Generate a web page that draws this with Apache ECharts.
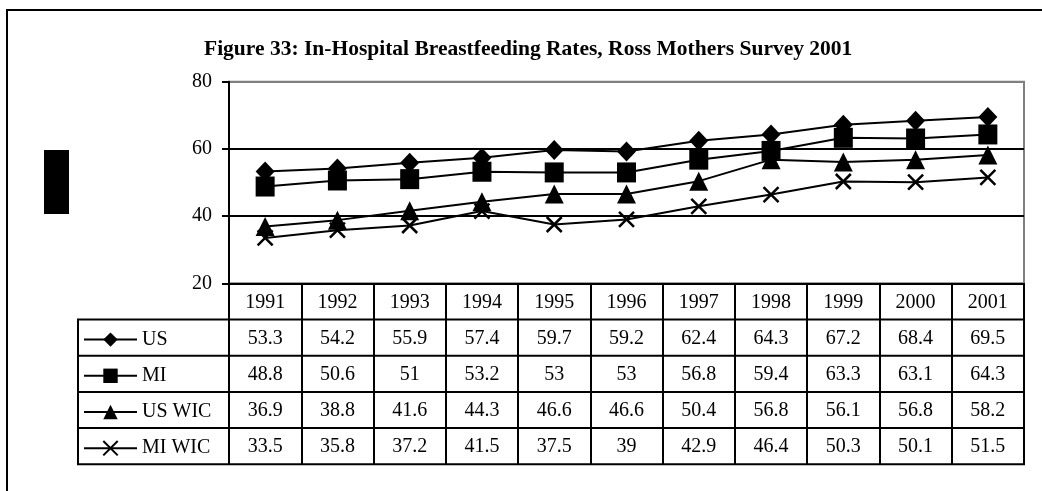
<!DOCTYPE html>
<html>
<head>
<meta charset="utf-8">
<script src="https://cdn.jsdelivr.net/npm/echarts@6/dist/echarts.min.js"></script>
<style>
  html, body { margin: 0; padding: 0; background: #fff; }
  #main { width: 1042px; height: 491px; }
</style>
</head>
<body>
<div id="main"></div>
<script>
var years = ['1991','1992','1993','1994','1995','1996','1997','1998','1999','2000','2001'];
var us    = [53.3, 54.2, 55.9, 57.4, 59.7, 59.2, 62.4, 64.3, 67.2, 68.4, 69.5];
var mi    = [48.8, 50.6, 51, 53.2, 53, 53, 56.8, 59.4, 63.3, 63.1, 64.3];
var usWic = [36.9, 38.8, 41.6, 44.3, 46.6, 46.6, 50.4, 56.8, 56.1, 56.8, 58.2];
var miWic = [33.5, 35.8, 37.2, 41.5, 37.5, 39, 42.9, 46.4, 50.3, 50.1, 51.5];
var yTicks = [20, 40, 60, 80];

var FONT = '"Liberation Serif", "Times New Roman", serif';
var plotLeft = 229, plotRight = 1024, plotTop = 81.7, plotBottom = 283.3;
var rowH = 36.2, tableLeft = 78;

var rows = [
  { name: 'US', data: us, symbol: 'diamond', size: [19, 20] },
  { name: 'MI', data: mi, symbol: 'rect', size: [19, 20] },
  { name: 'US WIC', data: usWic, symbol: 'triangle', size: [19, 19] },
  { name: 'MI WIC', data: miWic, symbol: 'path://M0,0L10,10M10,0L0,10', size: [15, 15] }
];

var chart = echarts.init(document.getElementById('main'));

// category row + one axis per table row, stacked downward
var xAxes = [{
  type: 'category',
  data: years,
  boundaryGap: true,
  axisLine: { lineStyle: { color: '#000', width: 2 } },
  axisTick: { show: true, interval: 0, length: rowH, lineStyle: { color: '#000', width: 2 } },
  axisLabel: { interval: 0, margin: 9, fontFamily: FONT, fontSize: 20, color: '#000' }
}];
rows.forEach(function (r, k) {
  xAxes.push({
    type: 'category',
    data: years,
    position: 'bottom',
    offset: rowH * (k + 1),
    boundaryGap: true,
    axisLine: { show: false },
    axisTick: { show: true, interval: 0, length: rowH, lineStyle: { color: '#000', width: 2 } },
    axisLabel: {
      interval: 0, margin: 9, fontFamily: FONT, fontSize: 20, color: '#000',
      formatter: function (v, i) { return String(r.data[i]); }
    }
  });
});

var graphics = [
  { type: 'polyline', shape: { points: [[7, 491], [7, 10], [1042, 10]] }, style: { stroke: '#000', lineWidth: 2, fill: null } },
  { type: 'rect', shape: { x: 44, y: 150, width: 25, height: 64 }, style: { fill: '#000' } },
  { type: 'line', shape: { x1: tableLeft, y1: plotBottom + rowH, x2: tableLeft, y2: plotBottom + rowH * 5 }, style: { stroke: '#000', lineWidth: 2 } }
];
for (var k = 1; k <= 5; k++) {
  graphics.push({
    type: 'line',
    shape: { x1: tableLeft - 1, y1: plotBottom + rowH * k, x2: plotRight + 1, y2: plotBottom + rowH * k },
    style: { stroke: '#000', lineWidth: 2 }
  });
}

var legends = rows.map(function (r, k) {
  return {
    data: [r.name],
    left: 83,
    top: plotBottom + rowH * (k + 1) + rowH / 2 - 8,
    orient: 'horizontal',
    padding: 0,
    itemWidth: 53,
    itemHeight: 18,
    selectedMode: false,
    textStyle: { fontFamily: FONT, fontSize: 20, color: '#000' }
  };
});

chart.setOption({
  animation: false,
  backgroundColor: '#fff',
  title: {
    text: 'Figure 33: In-Hospital Breastfeeding Rates, Ross Mothers Survey 2001',
    left: 204,
    top: 38,
    padding: 0,
    textStyle: { fontFamily: FONT, fontWeight: 'bold', fontSize: 21.5, color: '#000' }
  },
  legend: legends,
  grid: {
    left: plotLeft, right: 1042 - plotRight, top: plotTop, bottom: 491 - plotBottom,
    show: true, borderColor: '#808080', borderWidth: 2, backgroundColor: 'transparent'
  },
  xAxis: xAxes,
  yAxis: {
    type: 'value',
    min: yTicks[0],
    max: yTicks[yTicks.length - 1],
    interval: 20,
    axisLine: { show: true, lineStyle: { color: '#000', width: 2 } },
    axisTick: { show: true, length: 7, lineStyle: { color: '#000', width: 2 } },
    axisLabel: { margin: 17, fontFamily: FONT, fontSize: 20, color: '#000' },
    splitLine: { show: true, lineStyle: { color: ['#000', '#000', '#000', '#808080'], width: 2 } }
  },
  graphic: graphics,
  series: rows.map(function (r) {
    return {
      name: r.name,
      type: 'line',
      data: r.data,
      xAxisIndex: 0,
      symbol: r.symbol,
      symbolSize: r.size,
      showAllSymbol: true,
      lineStyle: { color: '#000', width: 2 },
      itemStyle: { color: '#000', borderColor: '#000', borderWidth: r.symbol.indexOf('path') === 0 ? 2.5 : 0 },
      emphasis: { disabled: true },
      z: 3
    };
  })
});
</script>
</body>
</html>
